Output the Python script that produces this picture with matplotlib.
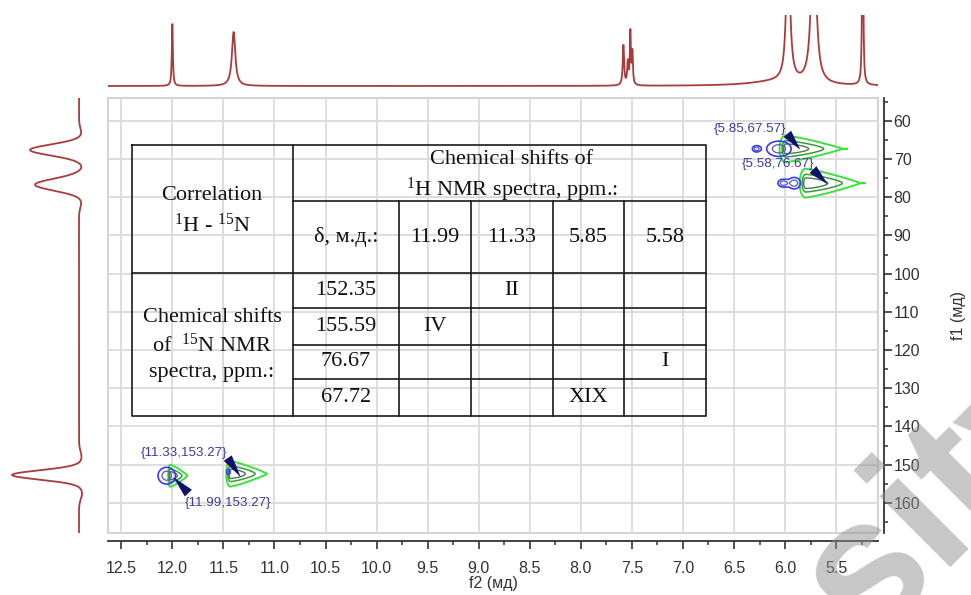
import numpy as np
import matplotlib.pyplot as plt
from matplotlib.patches import Rectangle

plt.rcParams['font.family'] = ['Liberation Sans', 'DejaVu Sans']
plt.rcParams['mathtext.fontset'] = 'custom'
plt.rcParams['mathtext.rm'] = 'Liberation Serif'
plt.rcParams['mathtext.it'] = 'Liberation Serif:italic'
plt.rcParams['mathtext.bf'] = 'Liberation Serif:bold'

W, H = 971, 595

# 1H projection (f2): peak position (ppm), height, half width (ppm)
h_ppm = [12.00, 11.40, 7.583, 7.540, 7.515, 7.495, 6.10, 5.97, 5.72, 5.24]
h_height = [62, 54, 40, 22, 52, 32, 4, 160, 190, 400]
h_width = [0.006, 0.02, 0.008, 0.007, 0.006, 0.006, 0.30, 0.02, 0.025, 0.004]

# 15N projection (f1): peak position (ppm), height, width (ppm)
n_ppm = [63.5, 67.6, 72.0, 76.7, 81.0, 148.0, 152.7, 157.5]
n_height = [-2.5, 49, -3, 44, -2.5, -2.5, 67, -3]
n_width = [1.5, 1.4, 1.2, 1.5, 1.5, 1.5, 1.2, 1.5]

# cross peaks and their labels
cp_f2 = [5.85, 5.58, 11.99, 11.33]
cp_f1 = [67.57, 76.67, 153.27, 153.27]
cp_label = ['{5.85,67.57}', '{5.58,76.67}', '{11.99,153.27}', '{11.33,153.27}']

# positive (green) lobes: left edge f2, centre f1, length f2, half height f1
pos_f2 = [5.99, 5.795, 12.02, 11.43]
pos_f1 = [67.3, 76.3, 152.9, 152.4]
pos_len = [0.55, 0.53, 0.17, 0.36]
pos_hh = [2.4, 2.6, 2.0, 2.3]

# negative (blue) lobes: centre f2, centre f1, half widths
neg_f2 = [6.06, 6.28, 6.02, 5.91, 12.055, 11.45]
neg_f1 = [67.3, 67.3, 76.3, 76.3, 152.9, 151.9]
neg_wx = [0.12, 0.04, 0.05, 0.06, 0.085, 0.016]
neg_wy = [2.0, 0.8, 1.0, 1.5, 2.2, 0.7]

# table contents
corr_lines = ['Correlation', r'$^{1}$H - $^{15}$N']
h_head = ['Chemical shifts of', r'$^{1}$H NMR spectra, ppm.:']
n_head = ['Chemical shifts', r'of  $^{15}$N NMR', 'spectra, ppm.:']
h_shifts = ['11.99', '11.33', '5.85', '5.58']
n_shifts = ['152.35', '155.59', '76.67', '67.72']
assign = [['', 'II', '', ''],
          ['IV', '', '', ''],
          ['', '', '', 'I'],
          ['', '', 'XIX', '']]

XL = (12.63, 5.09)
YL = (167.9, 54.0)
red = '#a83c3c'
axc = '#333333'

fig = plt.figure(figsize=(W / 100, H / 100), dpi=100)

def box(x0, y0, x1, y1):
    return [x0 / W, 1 - y1 / H, (x1 - x0) / W, (y1 - y0) / H]

ax = fig.add_axes(box(108, 98, 878, 533))
ax_top = fig.add_axes(box(108, 15, 878, 92), sharex=ax)
ax_left = fig.add_axes(box(0, 98, 100, 533), sharey=ax)

ax.set_xlim(*XL)
ax.set_ylim(*YL)

# projections
xs = np.linspace(XL[0], XL[1], 4000)
top = np.zeros_like(xs)
for p, h, w in zip(h_ppm, h_height, h_width):
    top += h * w ** 2 / ((xs - p) ** 2 + w ** 2)
ax_top.plot(xs, top, color=red, lw=1.3)
ax_top.set_ylim(-6, 71)
ax_top.axis('off')

ys = np.linspace(YL[1], YL[0], 2000)
side = np.zeros_like(ys)
for p, h, w in zip(n_ppm, n_height, n_width):
    side += h * np.exp(-(ys - p) ** 2 / (2 * w ** 2))
ax_left.plot(side, ys, color=red, lw=1.3)
ax_left.set_xlim(79, -21)
ax_left.axis('off')

# main 2D plot
ax.set_xticks(np.arange(12.5, 5.4, -0.5))
ax.set_xticks(np.arange(12.5, 5.0, -0.25), minor=True)
ax.set_yticks(np.arange(60, 161, 10))
ax.set_yticks(np.arange(55, 168, 5), minor=True)
ax.xaxis.set_major_formatter(plt.FormatStrFormatter('%.1f'))
ax.yaxis.tick_right()
ax.yaxis.set_label_position('right')
for s in ['left', 'top']:
    ax.spines[s].set_visible(False)
ax.spines['bottom'].set_position(('outward', 5.8))
ax.spines['right'].set_position(('outward', 4.3))
for s in ['bottom', 'right']:
    ax.spines[s].set_color(axc)
    ax.spines[s].set_linewidth(1.3)
ax.tick_params(axis='both', which='major', length=5.5, width=1.2,
               colors=axc, labelsize=11.5)
ax.tick_params(axis='both', which='minor', length=3.2, width=1.1, colors=axc)
ax.tick_params(axis='x', which='major', pad=9)
ax.tick_params(axis='y', which='major', pad=1.5)
ax.grid(True, which='major', color='#dadada', lw=1.3)
ax.set_axisbelow(True)
ax.add_patch(Rectangle((0, 0), 1, 1, transform=ax.transAxes, fill=False,
                       ec='#d4d4d4', lw=1.5, clip_on=False, zorder=0.5))
ax.set_xlabel('f2 (мд)', fontsize=11.5, color=axc, labelpad=0)
ax.set_ylabel('f1 (мд)', fontsize=11.5, color=axc, labelpad=22)

# contours
gx = np.linspace(XL[0], XL[1], 1200)
gy = np.linspace(YL[1], YL[0], 900)
X, Y = np.meshgrid(gx, gy)
pos = np.zeros_like(X)
for x0, y0, L, hh in zip(pos_f2, pos_f1, pos_len, pos_hh):
    u = (x0 - X) / L
    v = (Y - y0) / hh
    g = np.clip(1 - u, 1e-3, None) ** 0.6
    along = np.where(u < 0, np.exp(-(u / 0.08) ** 2), np.exp(-(u / 0.75) ** 2))
    pos += along * np.exp(-(v / g) ** 2)
neg = np.zeros_like(X)
for x0, y0, wx, wy in zip(neg_f2, neg_f1, neg_wx, neg_wy):
    neg += np.exp(-((X - x0) / wx) ** 2 - ((Y - y0) / wy) ** 2)

ax.contour(X, Y, pos, levels=[0.12, 0.45, 0.75],
           colors=['#3ee03e', '#3a9a3a', '#4a7a4a'], linewidths=[1.4, 1.1, 1.0])
ax.contour(X, Y, neg, levels=[np.exp(-1), 0.75],
           colors=['#3b3bf0', '#5a5ab8'], linewidths=[1.2, 0.9])

tail_off = [(-9.4, 11.5), (-10.8, 10.8), (10.8, -11.5), (-9.4, 13.7)]
label_off = [(-36, 15), (-36, 15), (39.6, -18.7), (-41, 17.3)]
for f2, f1, lab, t, l in zip(cp_f2, cp_f1, cp_label, tail_off, label_off):
    ax.annotate('', xy=(f2, f1), xytext=t, textcoords='offset points',
                arrowprops=dict(arrowstyle='wedge,tail_width=0.7,shrink_factor=0.5',
                                color='#10106e', lw=0, shrinkA=0, shrinkB=0))
    ax.annotate(lab, xy=(f2, f1), xytext=l, textcoords='offset points',
                ha='center', va='center', fontsize=9.6, color='#3a3a9c')

# overlay in pixel coordinates for the table and watermark
ov = fig.add_axes([0, 0, 1, 1])
ov.set_xlim(0, W)
ov.set_ylim(H, 0)
ov.axis('off')

cols = [132, 293, 399, 471, 553, 624, 706]
rows = [145, 201, 273, 308, 345, 379, 416]
lk = dict(color='#1a1a1a', lw=1.2)
ov.plot([cols[0], cols[-1], cols[-1], cols[0], cols[0]],
        [rows[0], rows[0], rows[-1], rows[-1], rows[0]], **lk)
ov.plot([cols[1], cols[1]], [rows[0], rows[-1]], **lk)
ov.plot([cols[1], cols[-1]], [rows[1], rows[1]], **lk)
ov.plot([cols[0], cols[-1]], [rows[2], rows[2]], **lk)
for c in cols[2:-1]:
    ov.plot([c, c], [rows[1], rows[-1]], **lk)
for r in rows[3:-1]:
    ov.plot([cols[1], cols[-1]], [r, r], **lk)

tk = dict(family='Liberation Serif', fontsize=16, color='#111111',
          ha='center', va='center')
for txt, y in zip(corr_lines, [195, 225]):
    ov.text(212, y, txt, **tk)
for txt, y in zip(h_head, [159, 190]):
    ov.text(512, y, txt, **tk)
for txt, y in zip(n_head, [317, 345, 373]):
    ov.text(212, y, txt, **tk)
ov.text((cols[1] + cols[2]) / 2, (rows[1] + rows[2]) / 2, 'δ, м.д.:', **tk)
for j, s in enumerate(h_shifts):
    ov.text((cols[j + 2] + cols[j + 3]) / 2, (rows[1] + rows[2]) / 2, s, **tk)
for i, s in enumerate(n_shifts):
    yc = (rows[i + 2] + rows[i + 3]) / 2
    ov.text((cols[1] + cols[2]) / 2, yc, s, **tk)
    for j, a in enumerate(assign[i]):
        if a:
            ov.text((cols[j + 2] + cols[j + 3]) / 2, yc, a, **tk)

# watermark
ov.text(866, 645, 'sity', rotation=45, rotation_mode='anchor', ha='left',
        va='baseline', fontsize=136, family='Liberation Sans', weight='bold',
        color='#909090', alpha=0.5, clip_on=False, zorder=10)

fig.savefig('out.png', dpi=100)
